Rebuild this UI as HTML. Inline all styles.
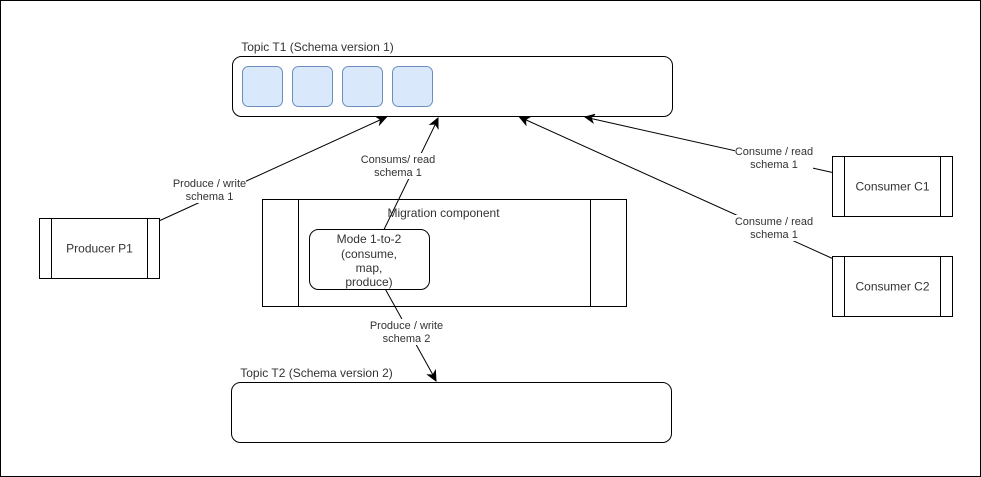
<!DOCTYPE html>
<html>
<head>
<meta charset="utf-8">
<style>
html,body{margin:0;padding:0;background:#fff;width:981px;height:477px;overflow:hidden}
svg{display:block}
text{font-family:"Liberation Sans",Arial,sans-serif;fill:#333;text-anchor:middle}
.m{font-size:12px}
.l{font-size:11px}
.s{fill:none;stroke:#000;stroke-width:1}
.b{fill:#fff;stroke:#000;stroke-width:1}
.c{fill:#dae8fc;stroke:#6c8ebf;stroke-width:1}
</style>
</head>
<body>
<svg width="981" height="477" viewBox="0 0 981 477" xmlns="http://www.w3.org/2000/svg">
<rect x="0.5" y="0.5" width="980" height="476" class="b"/>

<!-- Topic T1 -->
<rect x="232.5" y="56.5" width="440" height="60" rx="9" class="b"/>
<rect x="242.5" y="66.5" width="40" height="40" rx="6" class="c"/>
<rect x="292.5" y="66.5" width="40" height="40" rx="6" class="c"/>
<rect x="342.5" y="66.5" width="40" height="40" rx="6" class="c"/>
<rect x="392.5" y="66.5" width="40" height="40" rx="6" class="c"/>
<text class="m" x="317.5" y="51">Topic T1 (Schema version 1)</text>

<!-- Topic T2 -->
<rect x="231.5" y="382.5" width="440" height="60" rx="9" class="b"/>
<text class="m" x="316.5" y="377">Topic T2 (Schema version 2)</text>

<!-- Migration component -->
<rect x="262.5" y="199.5" width="364" height="107" class="b"/>
<path d="M298.5 199.5V306.5M590.5 199.5V306.5" class="s"/>
<rect x="309.5" y="229.5" width="120" height="60" rx="9" class="b"/>

<!-- Producer -->
<rect x="39.5" y="218.5" width="120" height="60" class="b"/>
<path d="M51.5 218.5V278.5M147.5 218.5V278.5" class="s"/>
<text class="m" x="99.5" y="252.5">Producer P1</text>

<!-- Consumers -->
<rect x="832.5" y="156.5" width="120" height="60" class="b"/>
<path d="M844.5 156.5V216.5M940.5 156.5V216.5" class="s"/>
<text class="m" x="892.5" y="190.5">Consumer C1</text>
<rect x="832.5" y="256.5" width="120" height="60" class="b"/>
<path d="M844.5 256.5V316.5M940.5 256.5V316.5" class="s"/>
<text class="m" x="892.5" y="290.5">Consumer C2</text>

<!-- Connectors -->
<path d="M160 220.5L381 119.5" class="s"/>
<path d="M386.5 117L379.6 124.6L380.6 119.7L376.5 116.9Z" fill="#000" stroke="#000"/>
<path d="M384 229.5L435.5 124" class="s"/>
<path d="M438 118L438 128.3L435.3 124L430.2 124.4Z" fill="#000" stroke="#000"/>
<path d="M385.5 289.5L433 375" class="s"/>
<path d="M436 381L427.8 374.8L432.9 375L435.4 370.6Z" fill="#000" stroke="#000"/>
<path d="M832.5 172.5L590 118.3" class="s"/>
<path d="M585 117L595 114.4L591 117.7L592.9 122.6Z" fill="#000" stroke="#000"/>
<path d="M832.5 258.5L524 119" class="s"/>
<path d="M519.5 117L529.8 117L525.5 119.7L525.9 124.8Z" fill="#000" stroke="#000"/>

<!-- Text over connector -->
<text class="m" x="443.5" y="217">Migration component</text>
<text class="m" x="369" y="243">Mode 1-to-2</text>
<text class="m" x="369" y="258">(consume,</text>
<text class="m" x="369" y="272">map,</text>
<text class="m" x="369" y="286">produce)</text>

<!-- Edge labels -->
<rect x="173" y="177" width="73" height="26" fill="#fff"/>
<text class="l" x="209.5" y="187">Produce / write</text>
<text class="l" x="209.5" y="200">schema 1</text>

<rect x="361" y="153" width="74" height="26" fill="#fff"/>
<text class="l" x="398" y="163">Consums/ read</text>
<text class="l" x="398" y="176">schema 1</text>

<rect x="370" y="319" width="73" height="26" fill="#fff"/>
<text class="l" x="406.5" y="329">Produce / write</text>
<text class="l" x="406.5" y="342">schema 2</text>

<rect x="735" y="145" width="78" height="26" fill="#fff"/>
<text class="l" x="774" y="155">Consume / read</text>
<text class="l" x="774" y="168">schema 1</text>

<rect x="735" y="215" width="78" height="26" fill="#fff"/>
<text class="l" x="774" y="225">Consume / read</text>
<text class="l" x="774" y="238">schema 1</text>
</svg>
</body>
</html>
